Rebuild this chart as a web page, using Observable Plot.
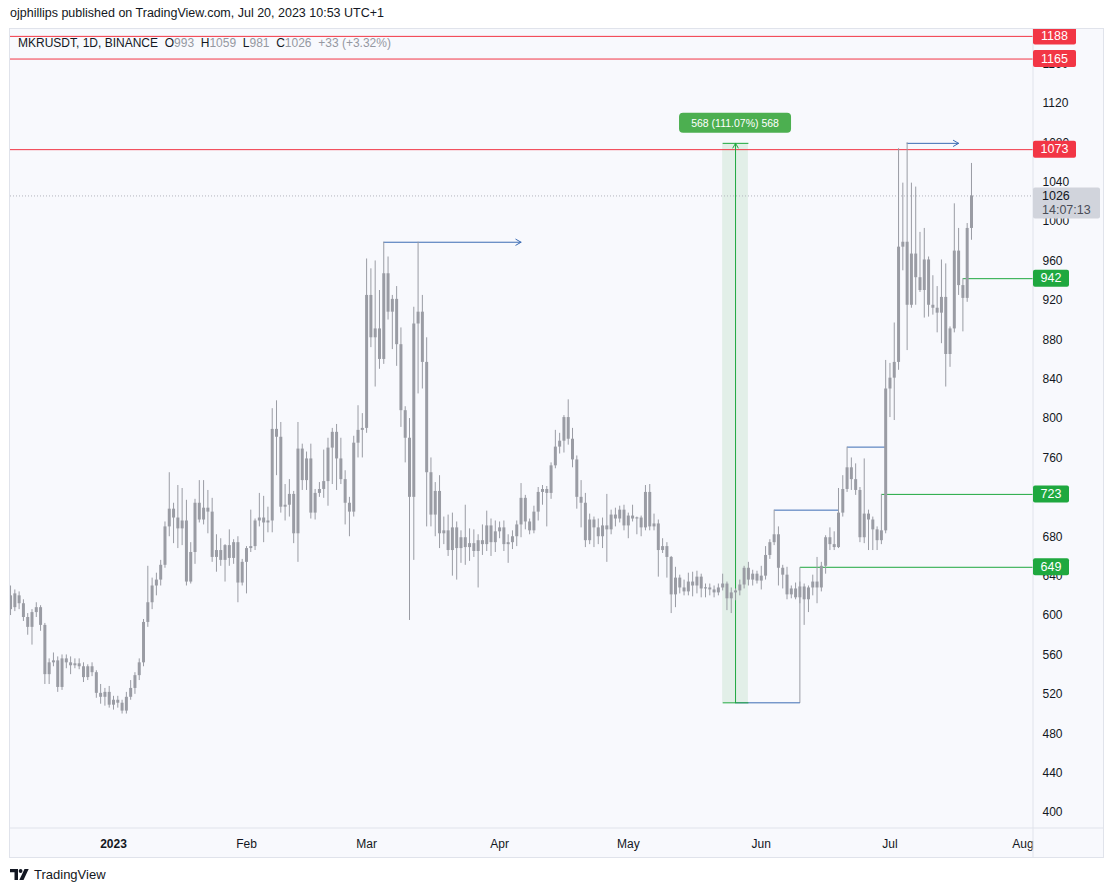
<!DOCTYPE html>
<html><head><meta charset="utf-8">
<script src="https://cdn.jsdelivr.net/npm/d3@7"></script>
<script src="https://cdn.jsdelivr.net/npm/@observablehq/plot@0.6"></script>
<style>
body{margin:0;background:#fff;width:1113px;height:892px;position:relative;overflow:hidden;font-family:"Liberation Sans",Arial,sans-serif;color:#131722}
#pub{position:absolute;left:10px;top:6px;font-size:12.5px}
#chart{position:absolute;left:9px;top:28px;width:1095px;height:830px}
#frame{position:absolute;left:9px;top:28px;width:1095px;height:830px;border:1px solid #e0e3eb;box-sizing:border-box;pointer-events:none}
#legend{position:absolute;left:18px;top:36px;font-size:12px;white-space:pre}
#legend .v{color:#9598a1}
#logo{position:absolute;left:10px;top:867px;font-size:13px;display:flex;align-items:center;gap:4px}
</style></head>
<body>
<div id="pub">ojphillips published on TradingView.com, Jul 20, 2023 10:53 UTC+1</div>
<div id="chart"></div>
<div id="frame"></div>
<div id="legend">MKRUSDT, 1D, BINANCE  O<span class="v">993</span>  H<span class="v">1059</span>  L<span class="v">981</span>  C<span class="v">1026</span>  <span class="v">+33 (+3.32%)</span></div>
<div id="logo"><svg width="20" height="12" viewBox="0 0 20 12"><path d="M0 0h8v11H4.5V3.2H0z" fill="#131722"/><circle cx="10.6" cy="2" r="1.9" fill="#131722"/><path d="M14.5 0h4.2l-5.2 11H9.3z" fill="#131722"/></svg><span>TradingView</span></div>
<script>
// ---- data ----
const firstDay = "2022-12-08"; // consecutive daily candles from this day
const opens = [620,608,620,612,598,588,603,608,590,540,552,554,527,556,552,549,551,548,537,548,542,521,517,522,
509,514,511,503,517,526,539,552,593,613,630,636,651,690,708,699,688,696,634,664,714,697,709,705,659,666,656,671,658,674,633,
654,668,670,696,699,694,696,789,781,710,712,723,683,769,737,759,704,724,728,736,770,786,759,738,714,705,775,788,
790,925,882,891,860,947,908,921,875,808,780,720,896,908,857,745,702,726,683,686,666,689,668,679,669,673,665,676,672,691,674,
685,689,672,674,680,692,719,695,686,705,725,728,724,752,771,777,801,779,758,720,714,676,697,689,680,691,687,702,698,707,
691,701,698,699,689,725,690,693,666,670,659,621,638,628,624,634,630,639,627,628,626,623,628,632,617,623,625,631,648,636,642,
635,640,661,674,682,648,641,621,627,618,629,616,628,634,628,650,679,672,669,704,728,750,738,727,679,703,697,687,676,686,
830,841,857,974,979,915,967,943,930,961,915,912,907,923,865,891,970,935,922,993];
const highs = [630,626,624,616,602,606,613,610,592,556,562,558,560,560,558,556,556,552,550,552,544,530,526,528,
518,518,514,522,534,542,556,596,650,638,643,656,695,745,714,732,729,717,674,718,737,737,727,719,682,678,672,687,677,680,657,
670,707,698,724,721,710,810,818,796,733,738,726,796,774,766,774,728,735,768,780,790,794,780,747,720,782,813,805,
962,952,960,930,979,964,925,934,892,812,800,913,979,925,882,760,735,742,700,702,704,695,686,712,688,687,682,692,706,698,696,
695,696,682,686,696,734,722,698,711,730,732,731,755,788,785,803,819,790,762,737,724,703,700,698,699,723,707,709,711,712,
704,712,700,701,732,733,703,697,678,674,660,649,641,636,643,644,645,642,632,632,630,632,642,634,628,627,636,650,654,646,645,
650,670,677,707,690,651,649,630,633,634,632,630,641,659,654,681,689,685,729,742,771,760,754,730,759,707,700,690,723,859,
856,897,1074,1039,1080,1039,1035,989,993,964,945,934,961,957,893,1018,993,942,998,1059];
const lows = [600,604,606,594,580,570,598,584,530,530,548,522,524,546,540,546,545,532,534,538,516,510,508,506,
504,506,500,500,514,520,534,548,588,606,620,630,648,680,673,668,671,630,632,652,694,692,683,654,644,650,634,650,652,613,630,
622,664,666,690,674,684,684,742,704,696,700,673,654,727,727,698,697,720,719,711,733,727,733,692,680,700,760,760,
785,872,832,850,855,900,870,853,791,755,595,656,825,830,690,690,680,668,672,660,640,636,653,651,655,659,628,661,665,660,664,
678,665,653,667,670,679,687,682,683,696,712,690,718,749,764,765,773,750,708,689,669,672,669,672,668,654,682,690,694,686,
678,695,682,680,686,686,686,639,663,638,602,608,622,620,620,619,622,618,618,620,618,620,625,605,602,615,620,627,630,630,632,
626,636,657,671,630,627,616,617,616,612,590,603,620,612,624,642,666,666,668,700,725,727,722,674,673,666,666,666,672,683,
801,798,849,950,869,912,915,928,902,903,905,887,876,832,852,887,925,888,918,981];
const closes = [606,622,612,598,588,603,608,590,540,552,554,527,556,552,549,551,548,537,548,542,521,517,522,509,
514,511,503,517,526,539,552,593,613,630,636,651,690,708,699,688,696,634,664,714,697,709,705,659,666,656,671,658,674,633,654,
668,670,696,699,694,696,789,781,710,712,723,683,769,737,759,704,724,728,736,770,786,759,738,714,705,775,788,790,
925,882,891,860,947,908,921,875,808,780,720,896,908,857,745,702,726,683,686,666,689,668,679,669,673,665,676,672,691,674,685,
689,672,674,680,692,719,695,686,705,725,728,724,752,771,777,801,779,758,720,714,676,697,689,680,691,687,702,698,707,691,
701,698,699,689,725,690,693,666,670,659,621,638,628,624,634,630,639,627,628,626,623,628,632,617,623,625,631,648,636,642,635,
640,661,674,682,648,641,621,627,618,629,616,628,634,628,650,679,672,669,704,728,750,738,727,679,703,697,687,676,686,830,
841,857,974,979,915,967,943,930,961,915,912,907,923,865,891,970,935,922,993,1026];

const yTicks = [400,440,480,520,560,600,640,680,760,800,840,880,920,960,1000,1040,1080,1120,1160];
const monthTicks = ["2023-02-01","2023-03-01","2023-04-01","2023-05-01","2023-06-01","2023-07-01","2023-08-01"];
const yearTicks = ["2023-01-01"];
const redLevels = [1188,1165,1073];
const greenRays = [{start:"2023-06-10", price:649},{start:"2023-06-29", price:723},{start:"2023-07-18", price:942}];
const blueLines = [{from:"2023-06-04", to:"2023-06-19", price:707},{from:"2023-06-21", to:"2023-06-30", price:771},{from:"2023-05-26", to:"2023-06-10", price:511.4}];
const blueArrows = [{from:"2023-03-05", to:"2023-04-06", price:979},{from:"2023-07-05", to:"2023-07-17", price:1079.4}];
const greyLinks = [{date:"2023-06-10", p1:511.4, p2:649}];
const measure = {from:"2023-05-23", to:"2023-05-29", mid:"2023-05-26", low:511.4, high:1079.4, label:"568 (111.07%) 568"};
const lastPrice = 1026, countdown = "14:07:13";

// ---- build ----
const D = s => new Date(s + "T00:00:00Z");
const t0 = D(firstDay).getTime();
const candles = opens.map((o,i)=>({date:new Date(t0 + i*864e5), open:o, high:highs[i], low:lows[i], close:closes[i]}));
const xDomain = [new Date(Date.UTC(2022,11,7,23,45)), new Date(Date.UTC(2023,7,3,11))];
const xEnd = xDomain[1];
const grey = "#9a9ca4", blue = "#3c6cb4", green = "#1fa83f", red = "#f23645";

const plot = Plot.plot({
  width: 1095, height: 830,
  marginLeft: 1, marginRight: 71, marginTop: 0, marginBottom: 30,
  style: {background: "#f8f9fd", fontFamily: '"Liberation Sans", Arial, sans-serif', fontSize: "12px", color: "#131722"},
  x: {type: "utc", domain: xDomain},
  y: {domain: [383.8, 1196]},
  marks: [
    Plot.rect([measure], {x1: d=>D(d.from), x2: d=>D(d.to), y1: "low", y2: "high", fill: "#4caf50", fillOpacity: 0.12}),
    Plot.ruleY(redLevels, {stroke: red, strokeWidth: 1}),
    Plot.ruleY([lastPrice], {stroke: "#b2b5be", strokeDasharray: "1,2"}),
    Plot.link(greenRays, {x1: d=>D(d.start), x2: ()=>xEnd, y1: "price", y2: "price", stroke: green}),
    Plot.link(greyLinks, {x1: d=>D(d.date), x2: d=>D(d.date), y1: "p1", y2: "p2", stroke: grey}),
    Plot.link(blueLines, {x1: d=>D(d.from), x2: d=>D(d.to), y1: "price", y2: "price", stroke: blue}),
    Plot.arrow(blueArrows, {x1: d=>D(d.from), x2: d=>D(d.to), y1: "price", y2: "price", stroke: blue, headLength: 9, strokeWidth: 1}),
    Plot.link([measure], {x1: d=>D(d.from), x2: d=>D(d.to), y1: "low", y2: "low", stroke: green}),
    Plot.link([measure], {x1: d=>D(d.from), x2: d=>D(d.to), y1: "high", y2: "high", stroke: green}),
    Plot.arrow([measure], {x1: d=>D(d.mid), x2: d=>D(d.mid), y1: "low", y2: "high", stroke: green, headLength: 8, strokeWidth: 1}),
    Plot.ruleX(candles, {x: "date", y1: "low", y2: "high", stroke: grey, strokeWidth: 1}),
    Plot.ruleX(candles, {x: "date", y1: d=>Math.min(d.open,d.close), y2: d=>Math.max(Math.max(d.open,d.close), Math.min(d.open,d.close)+1.2), stroke: grey, strokeWidth: 3}),
    Plot.axisY(yTicks, {anchor: "right", tickSize: 0, tickPadding: 9, label: null, tickFormat: d => String(d), fill: "#131722"}),
    Plot.axisX(monthTicks.map(D), {anchor: "bottom", tickSize: 0, tickPadding: 11, label: null, tickFormat: d3.utcFormat("%b"), fill: "#131722"}),
    Plot.axisX(yearTicks.map(D), {anchor: "bottom", tickSize: 0, tickPadding: 11, label: null, tickFormat: d3.utcFormat("%Y"), fontWeight: "bold", fill: "#131722"})
  ]
});
document.getElementById("chart").appendChild(plot);

const sx = plot.scale("x"), sy = plot.scale("y");
const svg = d3.select(plot);
const right = 1095 - 71, bottom = 830 - 30;
svg.append("line").attr("x1", right).attr("x2", right).attr("y1", 0).attr("y2", 830).attr("stroke", "#e0e3eb");
svg.append("line").attr("x1", 0).attr("x2", 1095).attr("y1", bottom).attr("y2", bottom).attr("stroke", "#e0e3eb");

function badge(v, fill, w) {
  const y = sy.apply(v);
  svg.append("rect").attr("x", right).attr("y", y - 8.5).attr("width", w).attr("height", 17).attr("rx", 2).attr("fill", fill);
  svg.append("text").attr("x", right + w/2).attr("y", y).attr("text-anchor", "middle").attr("dominant-baseline", "central")
    .attr("fill", "#fff").attr("font-size", 12.5).text(String(v));
}
// current price box
{
  const y = sy.apply(lastPrice);
  svg.append("rect").attr("x", right).attr("y", y - 8).attr("width", 67).attr("height", 31).attr("rx", 2).attr("fill", "#d1d4dc");
  svg.append("text").attr("x", right + 9).attr("y", y + 1).attr("text-anchor", "start").attr("dominant-baseline", "central").attr("fill", "#131722").attr("font-size", 12.5).text(String(lastPrice));
  svg.append("text").attr("x", right + 9).attr("y", y + 15).attr("text-anchor", "start").attr("dominant-baseline", "central").attr("fill", "#4a4d57").attr("font-size", 12.5).text(countdown);
}
redLevels.forEach(v => badge(v, red, 43));
greenRays.forEach(g => badge(g.price, green, 36));
// measure label
{
  const cx = sx.apply(D(measure.mid)), cy = sy.apply(measure.high) - 20;
  svg.append("rect").attr("x", cx - 56).attr("y", cy - 10).attr("width", 112).attr("height", 20).attr("rx", 4).attr("fill", "#4caf50");
  svg.append("text").attr("x", cx).attr("y", cy).attr("text-anchor", "middle").attr("dominant-baseline", "central")
    .attr("fill", "#fff").attr("font-size", 10.5).text(measure.label);
}
</script>
</body></html>
